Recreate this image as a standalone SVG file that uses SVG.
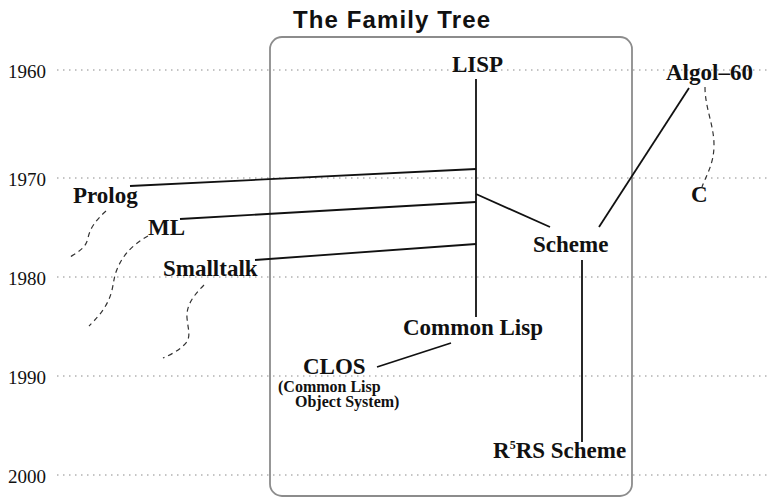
<svg xmlns="http://www.w3.org/2000/svg" width="768" height="499" viewBox="0 0 768 499">
  <style>
    .grid { stroke: #8a8a8a; stroke-width: 1; stroke-dasharray: 1.5 4.5; fill: none; }
    .year { font-family: "Liberation Serif", "Times New Roman", serif; font-size: 19px; fill: #111; }
    .lbl { font-family: "Liberation Serif", "Times New Roman", serif; font-size: 23px; font-weight: bold; fill: #111; }
    .small { font-family: "Liberation Serif", "Times New Roman", serif; font-size: 16px; font-weight: bold; fill: #111; }
    .edge { stroke: #111; stroke-width: 1.8; fill: none; }
    .dash { stroke: #333; stroke-width: 1.2; stroke-dasharray: 5 4; fill: none; }
  </style>
  <rect width="768" height="499" fill="#ffffff"/>

  <!-- title -->
  <text x="391.5" y="28" text-anchor="middle" font-family="'Liberation Sans', Arial, sans-serif" font-weight="bold" font-size="24" textLength="197" lengthAdjust="spacing" fill="#111">The Family Tree</text>

  <!-- Lisp family frame -->
  <rect x="270" y="37" width="362" height="459" rx="12" ry="12" fill="none" stroke="#8c8c8c" stroke-width="1.8"/>

  <!-- time axis -->
  <g id="axis">
    <line class="grid" x1="57" y1="70" x2="768" y2="70"/>
    <line class="grid" x1="57" y1="178" x2="768" y2="178"/>
    <line class="grid" x1="57" y1="277" x2="768" y2="277"/>
    <line class="grid" x1="57" y1="376" x2="768" y2="376"/>
    <line class="grid" x1="57" y1="475" x2="768" y2="475"/>
    <text class="year" x="8" y="78">1960</text>
    <text class="year" x="8" y="186">1970</text>
    <text class="year" x="8" y="285">1980</text>
    <text class="year" x="8" y="384">1990</text>
    <text class="year" x="8" y="483">2000</text>
  </g>

  <!-- connectors -->
  <g id="connectors">
    <line class="edge" x1="476" y1="79" x2="476" y2="317"/>
    <line class="edge" x1="130" y1="186" x2="476" y2="169"/>
    <line class="edge" x1="180" y1="219" x2="476" y2="202"/>
    <line class="edge" x1="255" y1="260" x2="476" y2="244"/>
    <line class="edge" x1="476" y1="194" x2="550" y2="227"/>
    <line class="edge" x1="689" y1="88" x2="599" y2="227"/>
    <line class="edge" x1="582" y1="260" x2="582" y2="442"/>
    <line class="edge" x1="451" y1="343" x2="377" y2="367"/>
    <path class="dash" d="M705,87 C705,108 714,125 714,145 C714,164 706,176 702,187"/>
    <path class="dash" d="M106,211 C96,220 90,228 88,238 C86,248 78,252 70,257"/>
    <path class="dash" d="M148,236 C130,246 121,258 116,272 C111,286 116,300 89,326"/>
    <path class="dash" d="M204,285 C194,295 186,305 187,318 C188,330 192,338 184,345 C178,351 170,355 163,358"/>
  </g>

  <!-- languages -->
  <g id="lisp"><text class="lbl" x="452" y="72">LISP</text></g>
  <g id="algol60"><text class="lbl" x="666" y="80">Algol–60</text></g>
  <g id="c"><text class="lbl" x="691" y="202">C</text></g>
  <g id="prolog"><text class="lbl" x="73" y="203">Prolog</text></g>
  <g id="ml"><text class="lbl" x="148" y="235">ML</text></g>
  <g id="smalltalk"><text class="lbl" x="163" y="276">Smalltalk</text></g>
  <g id="scheme"><text class="lbl" x="533" y="252">Scheme</text></g>
  <g id="common-lisp"><text class="lbl" x="403" y="335">Common Lisp</text></g>
  <g id="clos">
    <text class="lbl" x="303" y="374">CLOS</text>
    <text class="small" x="278" y="392">(Common Lisp</text>
    <text class="small" x="295" y="407">Object System)</text>
  </g>
  <g id="r5rs-scheme">
    <text class="lbl" x="493" y="458">R<tspan font-size="12" dy="-9">5</tspan><tspan dy="9">RS Scheme</tspan></text>
  </g>
</svg>
